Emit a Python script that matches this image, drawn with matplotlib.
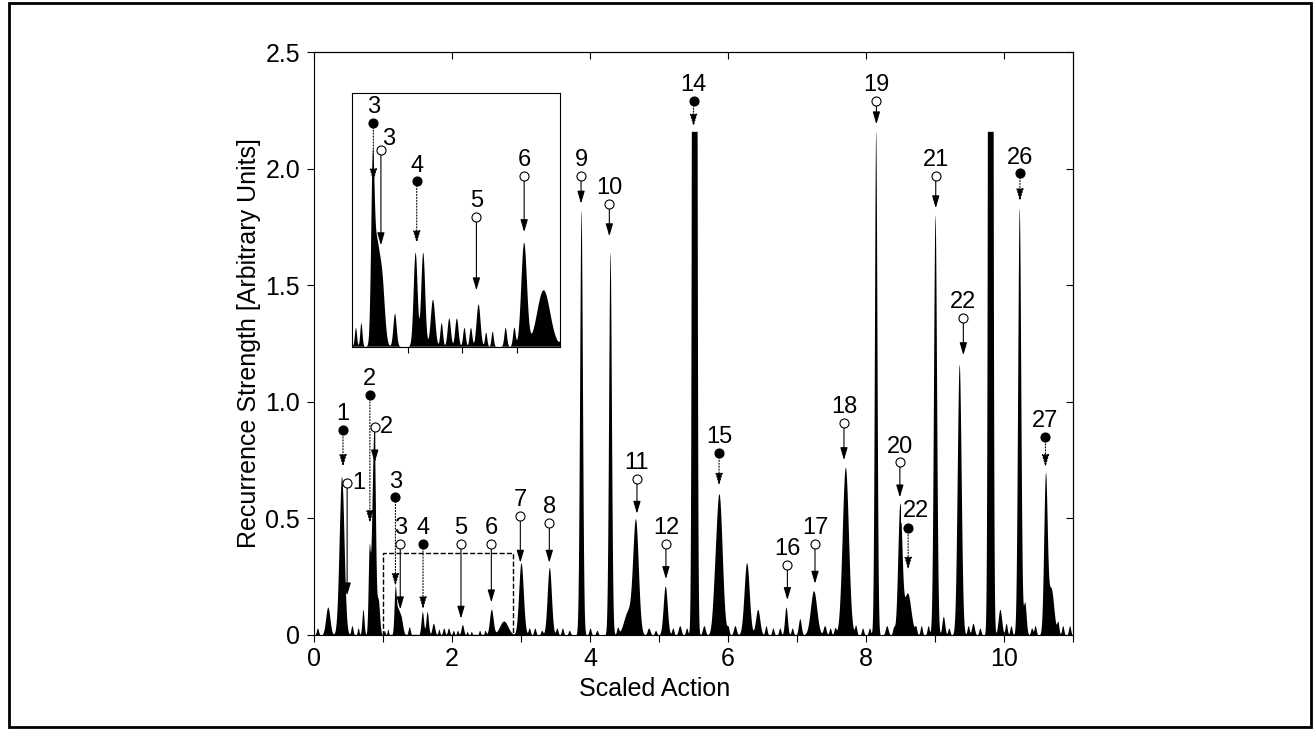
import numpy as np
import matplotlib.pyplot as plt
from matplotlib.patches import Rectangle

plt.rcParams['font.family'] = ['Liberation Sans', 'DejaVu Sans']

# Peaks: position (scaled action), height, width
peak_pos = [0.05, 0.20, 0.40, 0.55, 0.64, 0.71, 0.80, 0.845, 0.875, 0.93, 1.02, 1.07,
            1.175, 1.21, 1.26, 1.38, 1.57, 1.64, 1.73, 1.81, 1.88, 1.95, 2.02, 2.08,
            2.15, 2.22, 2.28, 2.40, 2.48, 2.57, 2.75, 3.00, 3.12, 3.20, 3.30, 3.41,
            3.52, 3.60, 3.70, 3.87, 4.00, 4.10, 4.29, 4.40, 4.55, 4.66, 4.85, 4.95,
            5.09, 5.20, 5.30, 5.40, 5.51, 5.65, 5.80, 5.87, 6.00, 6.10, 6.27, 6.43,
            6.55, 6.65, 6.75, 6.84, 6.93, 7.04, 7.24, 7.40, 7.48, 7.55, 7.70, 7.85,
            7.95, 8.05, 8.14, 8.30, 8.40, 8.49, 8.60, 8.72, 8.80, 8.90, 9.00, 9.12,
            9.20, 9.35, 9.48, 9.55, 9.65, 9.80, 9.94, 10.03, 10.10, 10.22, 10.30,
            10.40, 10.45, 10.60, 10.68, 10.78, 10.85, 10.95]
peak_height = [0.03, 0.12, 0.68, 0.04, 0.03, 0.11, 0.35, 0.45, 0.70, 0.15, 0.02, 0.025,
               0.17, 0.10, 0.07, 0.035, 0.10, 0.10, 0.05, 0.025, 0.03, 0.03, 0.02, 0.02,
               0.045, 0.015, 0.016, 0.02, 0.02, 0.11, 0.06, 0.31, 0.03, 0.03, 0.02, 0.29,
               0.03, 0.03, 0.02, 1.82, 0.03, 0.02, 1.64, 0.03, 0.10, 0.48, 0.03, 0.02,
               0.21, 0.03, 0.04, 0.03, 20.0, 0.04, 0.09, 0.60, 0.03, 0.04, 0.31, 0.11,
               0.04, 0.03, 0.03, 0.12, 0.03, 0.07, 0.19, 0.04, 0.03, 0.03, 0.72, 0.04,
               0.03, 0.03, 2.16, 0.04, 0.03, 0.55, 0.18, 0.03, 0.04, 0.04, 1.80, 0.08,
               0.03, 1.16, 0.04, 0.05, 0.03, 20.0, 0.11, 0.05, 0.04, 1.83, 0.14,
               0.03, 0.04, 0.67, 0.20, 0.05, 0.04, 0.04]
peak_width = [0.015, 0.03, 0.035, 0.015, 0.012, 0.015, 0.015, 0.02, 0.018, 0.02, 0.01, 0.01,
              0.015, 0.025, 0.025, 0.015, 0.018, 0.018, 0.02, 0.012, 0.015, 0.015, 0.012, 0.012,
              0.018, 0.01, 0.01, 0.012, 0.012, 0.026, 0.06, 0.033, 0.015, 0.015, 0.015, 0.03,
              0.015, 0.015, 0.015, 0.02, 0.015, 0.015, 0.02, 0.015, 0.06, 0.04, 0.02, 0.015,
              0.029, 0.015, 0.02, 0.015, 0.02, 0.02, 0.03, 0.045, 0.015, 0.02, 0.037, 0.03,
              0.015, 0.015, 0.015, 0.02, 0.015, 0.02, 0.045, 0.02, 0.015, 0.015, 0.045, 0.015,
              0.015, 0.015, 0.018, 0.02, 0.015, 0.03, 0.05, 0.015, 0.015, 0.015, 0.022, 0.02,
              0.015, 0.028, 0.015, 0.02, 0.015, 0.02, 0.025, 0.015, 0.015, 0.022, 0.02,
              0.015, 0.015, 0.025, 0.04, 0.015, 0.015, 0.015]
clip_level = 2.16

# Labelled recurrences: label, filled (orbit type), x, marker height, arrow tip height
ann_label = ['1', '1', '2', '2', '3', '3', '4', '5', '6', '7', '8', '9', '10', '11', '12',
             '14', '15', '16', '17', '18', '19', '20', '21', '22', '22', '26', '27']
ann_filled = [True, False, True, False, True, False, True, False, False, False, False,
              False, False, False, False, True, True, False, False, False, False, False,
              False, False, True, True, True]
ann_x = [0.42, 0.48, 0.81, 0.88, 1.18, 1.25, 1.58, 2.13, 2.57, 2.99, 3.41, 3.87, 4.28,
         4.68, 5.10, 5.50, 5.87, 6.86, 7.26, 7.68, 8.15, 8.49, 9.01, 9.41, 8.61, 10.23, 10.60]
ann_top = [0.88, 0.65, 1.03, 0.89, 0.59, 0.39, 0.39, 0.39, 0.39, 0.51, 0.48, 1.97, 1.85,
           0.67, 0.39, 2.29, 0.78, 0.30, 0.39, 0.91, 2.29, 0.74, 1.97, 1.36, 0.46, 1.98, 0.85]
ann_tip = [0.72, 0.17, 0.48, 0.74, 0.21, 0.11, 0.11, 0.07, 0.14, 0.31, 0.31, 1.85, 1.71,
           0.52, 0.24, 2.18, 0.64, 0.15, 0.22, 0.75, 2.19, 0.59, 1.83, 1.20, 0.28, 1.86, 0.72]
ann_side = ['top', 'right', 'top', 'right', 'top', 'top', 'top', 'top', 'top', 'top', 'top',
            'top', 'top', 'top', 'top', 'top', 'top', 'top', 'top', 'top', 'top', 'top',
            'top', 'top', 'box', 'top', 'top']

# Inset: labels 3, 3, 4, 5, 6 redrawn on the enlarged scale
inset_idx = [4, 5, 6, 7, 8]
inset_top = [0.238, 0.209, 0.176, 0.138, 0.182]
inset_tip = [0.176, 0.108, 0.110, 0.060, 0.122]
inset_side = ['top', 'topright', 'top', 'top', 'top']

xs = np.linspace(0, 11, 12000)
spec = np.zeros_like(xs)
for p, h, w in zip(peak_pos, peak_height, peak_width):
    spec += h * np.exp(-0.5 * ((xs - p) / w) ** 2)
spec = np.minimum(spec, clip_level)


def annotate(ax, label, filled, x, top, tip, side, fs=17):
    ls = ':' if filled else '-'
    ax.annotate('', xy=(x, tip), xytext=(x, top),
                arrowprops=dict(arrowstyle='-|>,head_length=0.75,head_width=0.22',
                                color='k', lw=0.8, ls=ls, shrinkA=3, shrinkB=0),
                zorder=4)
    ax.plot(x, top, 'o', ms=6.5, mfc='k' if filled else 'white', mec='k',
            mew=0.8, zorder=5, clip_on=False)
    if side == 'top':
        ax.annotate(label, (x, top), xytext=(0, 7), textcoords='offset points',
                    ha='center', va='baseline', fontsize=fs, zorder=6)
    elif side == 'right':
        ax.annotate(label, (x, top), xytext=(4, 0), textcoords='offset points',
                    ha='left', va='center', fontsize=fs, zorder=6)
    elif side == 'topright':
        ax.annotate(label, (x, top), xytext=(1, 4), textcoords='offset points',
                    ha='left', va='baseline', fontsize=fs, zorder=6)
    else:
        ax.annotate(label, (x, top), xytext=(-4, 8), textcoords='offset points',
                    ha='left', va='baseline', fontsize=fs, zorder=6,
                    bbox=dict(boxstyle='square,pad=0.05', fc='white', ec='none'))


fig = plt.figure(figsize=(13.16, 7.40), dpi=100)
fig.patches.append(Rectangle((9 / 1316, 13 / 740), 1302 / 1316, 724 / 740,
                             transform=fig.transFigure, fill=False, ec='k', lw=2))

ax = fig.add_axes([0.2386, 0.1419, 0.5768, 0.7878])
ax.fill_between(xs, spec, color='k', lw=0)
ax.set_xlim(0, 11)
ax.set_ylim(0, 2.5)
ax.set_xticks(range(0, 12))
ax.set_xticklabels([str(i) if i % 2 == 0 else '' for i in range(0, 12)])
ax.set_yticks([0, 0.5, 1.0, 1.5, 2.0, 2.5])
ax.set_yticklabels(['0', '0.5', '1.0', '1.5', '2.0', '2.5'])
ax.tick_params(direction='out', length=5, width=0.8, labelsize=18)
ax.tick_params(axis='x', pad=4)
ax.tick_params(axis='y', pad=5)
for s in ax.spines.values():
    s.set_linewidth(0.8)
top = ax.secondary_xaxis('top')
top.set_xticks(range(0, 12, 2))
top.tick_params(direction='in', length=5, width=0.8, labeltop=False)
right = ax.secondary_yaxis('right')
right.set_yticks([0, 0.5, 1.0, 1.5, 2.0, 2.5])
right.tick_params(direction='in', length=5, width=0.8, labelright=False)
ax.set_xlabel('Scaled Action', fontsize=18)
ax.xaxis.set_label_coords(0.449, -0.072)
ax.set_ylabel('Recurrence Strength [Arbitrary Units]', fontsize=18)
ax.yaxis.set_label_coords(-0.07, 0.5)

ax.add_patch(Rectangle((1.0, 0), 1.88, 0.35, fill=False, ls='--', lw=1, ec='k', zorder=3))

for i in range(len(ann_label)):
    annotate(ax, ann_label[i], ann_filled[i], ann_x[i], ann_top[i], ann_tip[i], ann_side[i])

axi = fig.add_axes([0.2672, 0.5315, 0.1583, 0.3428])
axi.fill_between(xs, spec, color='k', lw=0)
axi.set_xlim(0.98, 2.9)
axi.set_ylim(0, 0.27)
axi.set_xticks([1.5, 2.0, 2.5])
axi.set_xticklabels([])
axi.set_yticks([])
axi.tick_params(direction='out', length=4, width=0.8)
for s in axi.spines.values():
    s.set_linewidth(0.8)
for k, i in enumerate(inset_idx):
    annotate(axi, ann_label[i], ann_filled[i], ann_x[i], inset_top[k], inset_tip[k], inset_side[k])

fig.savefig('out.png', dpi=100)
